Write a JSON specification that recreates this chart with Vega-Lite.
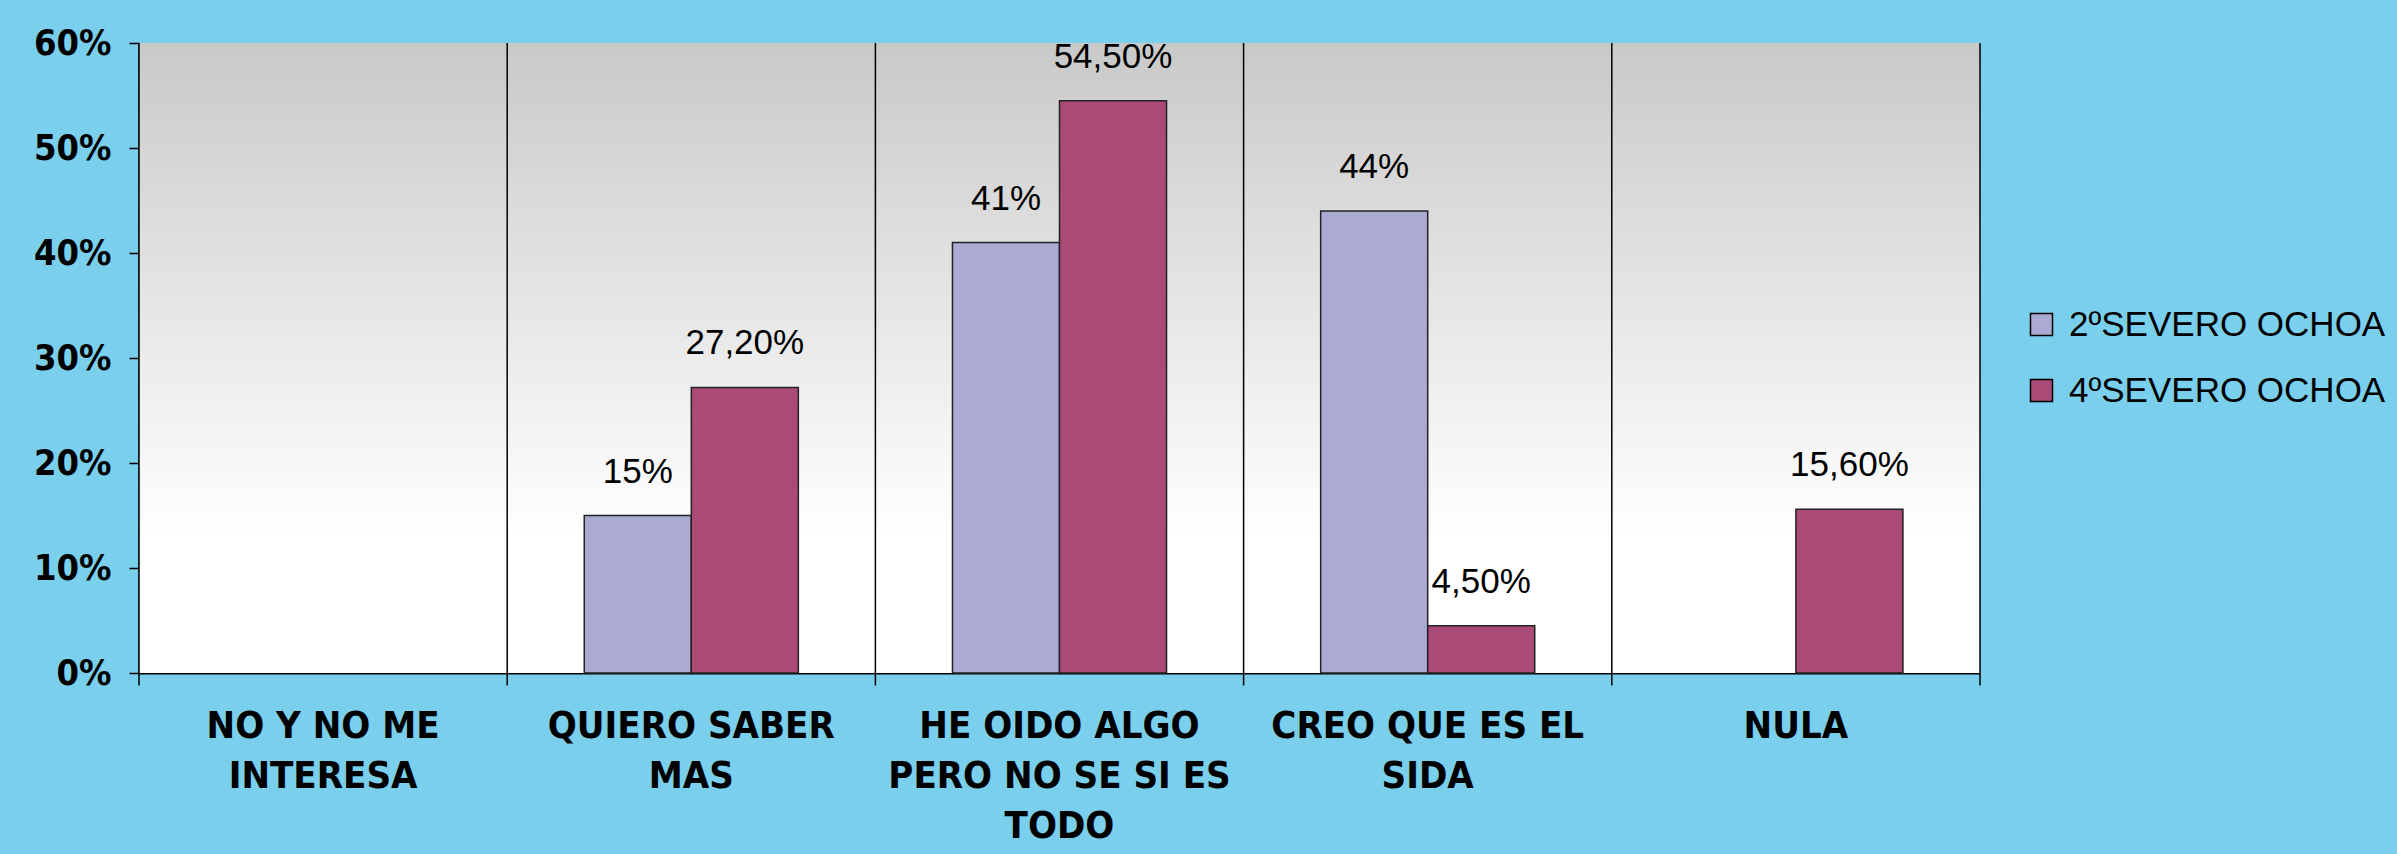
{
  "$schema": "https://vega.github.io/schema/vega-lite/v6.json",
  "width": 1841,
  "height": 630,
  "autosize": {"type": "none"},
  "padding": {"left": 139, "top": 43, "right": 417, "bottom": 181},
  "background": "#7acfed",
  "config": {
    "view": {"stroke": null},
    "font": "Liberation Sans",
    "axis": {"zindex": 1}
  },
  "datasets": {
    "main": [
      {"cat": "QUIERO SABER MAS", "serie": "2ºSEVERO OCHOA", "v": 15, "lab": "15%"},
      {"cat": "QUIERO SABER MAS", "serie": "4ºSEVERO OCHOA", "v": 27.2, "lab": "27,20%"},
      {"cat": "HE OIDO ALGO PERO NO SE SI ES TODO", "serie": "2ºSEVERO OCHOA", "v": 41, "lab": "41%"},
      {"cat": "HE OIDO ALGO PERO NO SE SI ES TODO", "serie": "4ºSEVERO OCHOA", "v": 54.5, "lab": "54,50%"},
      {"cat": "CREO QUE ES EL SIDA", "serie": "2ºSEVERO OCHOA", "v": 44, "lab": "44%"},
      {"cat": "CREO QUE ES EL SIDA", "serie": "4ºSEVERO OCHOA", "v": 4.5, "lab": "4,50%"},
      {"cat": "NULA", "serie": "4ºSEVERO OCHOA", "v": 15.6, "lab": "15,60%"}
    ],
    "cats": [
      {"cat": "NO Y NO ME INTERESA"},
      {"cat": "QUIERO SABER MAS"},
      {"cat": "HE OIDO ALGO PERO NO SE SI ES TODO"},
      {"cat": "CREO QUE ES EL SIDA"},
      {"cat": "NULA"}
    ],
    "lastcat": [{"cat": "NULA"}],
    "bg": [{"bg": 1}]
  },
  "layer": [
    {
      "data": {"name": "bg"},
      "mark": {
        "type": "rect",
        "fill": {
          "gradient": "linear", "x1": 0, "y1": 0, "x2": 0, "y2": 1,
          "stops": [
            {"offset": 0, "color": "#c9c9c9"},
            {"offset": 0.78, "color": "#ffffff"},
            {"offset": 1, "color": "#ffffff"}
          ]
        }
      },
      "encoding": {}
    },
    {
      "data": {"name": "main"},
      "mark": {"type": "bar", "stroke": "#222222", "strokeWidth": 1.5},
      "encoding": {
        "x": {
          "field": "cat", "type": "nominal", "sort": null,
          "scale": {
            "domain": ["NO Y NO ME INTERESA", "QUIERO SABER MAS", "HE OIDO ALGO PERO NO SE SI ES TODO", "CREO QUE ES EL SIDA", "NULA"],
            "paddingInner": 0, "paddingOuter": 0
          },
          "axis": {
            "title": null, "labelAngle": 0, "ticks": false, "grid": false,
            "domain": true, "domainColor": "#000000", "domainWidth": 2,
            "labelFont": "'Liberation Sans Narrow', 'DejaVu Sans Condensed', 'Roboto Condensed', sans-serif", "labelFontWeight": "bold",
            "labelFontSize": 38, "labelLineHeight": 50, "labelColor": "#000000",
            "labelPadding": 34, "labelBaseline": "top", "labelLimit": 400,
            "labelExpr": "datum.label == 'NO Y NO ME INTERESA' ? ['NO Y NO ME', 'INTERESA'] : datum.label == 'QUIERO SABER MAS' ? ['QUIERO SABER', 'MAS'] : datum.label == 'HE OIDO ALGO PERO NO SE SI ES TODO' ? ['HE OIDO ALGO', 'PERO NO SE SI ES', 'TODO'] : datum.label == 'CREO QUE ES EL SIDA' ? ['CREO QUE ES EL', 'SIDA'] : datum.label"
          }
        },
        "xOffset": {
          "field": "serie", "type": "nominal",
          "scale": {"paddingInner": 0, "paddingOuter": 0.72}
        },
        "y": {
          "field": "v", "type": "quantitative",
          "scale": {"domain": [0, 60]},
          "axis": {
            "title": null, "grid": false, "values": [0, 10, 20, 30, 40, 50, 60],
            "labelExpr": "datum.value + '%'",
            "domain": true, "domainColor": "#000000", "domainWidth": 2,
            "ticks": true, "tickColor": "#000000", "tickSize": 10, "tickWidth": 1.5,
            "labelFont": "'Liberation Sans Narrow', 'DejaVu Sans Condensed', 'Roboto Condensed', sans-serif", "labelFontWeight": "bold",
            "labelFontSize": 36, "labelColor": "#000000", "labelPadding": 18
          }
        },
        "color": {
          "field": "serie", "type": "nominal",
          "scale": {"domain": ["2ºSEVERO OCHOA", "4ºSEVERO OCHOA"], "range": ["#aaaad3", "#ab4a76"]},
          "legend": {
            "title": null, "orient": "none", "legendX": 1885, "legendY": 264,
            "symbolType": "square", "symbolSize": 484,
            "symbolStrokeColor": "#000000", "symbolStrokeWidth": 1.5,
            "labelFont": "Liberation Sans", "labelFontSize": 35, "labelColor": "#000000",
            "labelLimit": 1000, "rowPadding": 30, "labelOffset": 10, "padding": 0
          }
        }
      }
    },
    {
      "data": {"name": "main"},
      "mark": {"type": "text", "baseline": "bottom", "dy": -26, "fontSize": 35, "font": "Liberation Sans", "color": "#000000"},
      "encoding": {
        "x": {"field": "cat", "type": "nominal", "sort": null},
        "xOffset": {"field": "serie", "type": "nominal"},
        "y": {"field": "v", "type": "quantitative"},
        "text": {"field": "lab"}
      }
    },
    {
      "data": {"name": "cats"},
      "mark": {"type": "rule", "color": "#000000", "strokeWidth": 1.5},
      "encoding": {
        "x": {"field": "cat", "type": "nominal", "sort": null, "bandPosition": 0},
        "y": {"datum": 60},
        "y2": {"datum": -1.2}
      }
    },
    {
      "data": {"name": "lastcat"},
      "mark": {"type": "rule", "color": "#000000", "strokeWidth": 1.5},
      "encoding": {
        "x": {"field": "cat", "type": "nominal", "sort": null, "bandPosition": 1},
        "y": {"datum": 60},
        "y2": {"datum": -1.2}
      }
    }
  ]
}
